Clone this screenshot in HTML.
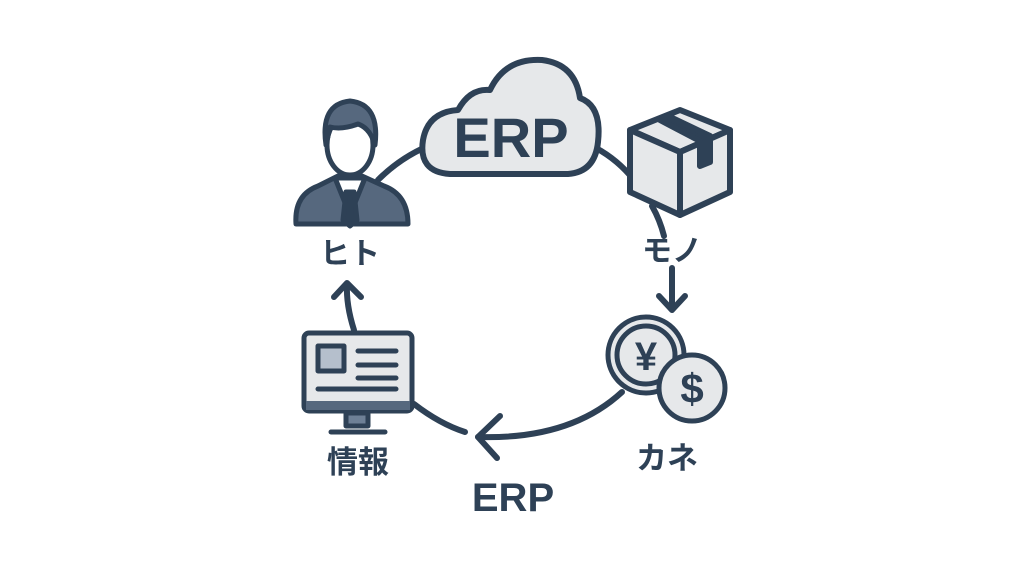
<!DOCTYPE html>
<html><head><meta charset="utf-8"><style>
html,body{margin:0;padding:0;background:#fff;width:1024px;height:576px;overflow:hidden}
text{font-family:"Liberation Sans","Noto Sans CJK JP",sans-serif;fill:#2e4156;font-weight:bold}
</style></head><body>
<svg width="1024" height="576" viewBox="0 0 1024 576" xmlns="http://www.w3.org/2000/svg">
<g fill="none" stroke="#2e4156" stroke-width="6" stroke-linecap="round" stroke-linejoin="round">
<path d="M378 180 Q400 158 428 146"/>
<path d="M596 148 Q618 160 634 180"/>
<path d="M652 206 Q660 220 664 236"/>
<path d="M672 268 V310 M659 296 L672 310 L685 296"/>
<path d="M622 392 Q570 440 478 437"/>
<path d="M500 416 L478 437 L497 458"/>
<path d="M414 404 Q440 424 465 432"/>
<path d="M354 330 Q346 305 347 284 M334 297 L347 283 L361 297"/>
</g>
<path d="M450 174 Q418 172 423 140 Q428 112 458 110 Q470 88 490 90 Q505 58 542 60 Q575 64 580 98 Q602 106 598 142 Q595 172 568 174 Z" fill="#e6e8ea" stroke="#2e4156" stroke-width="6" stroke-linejoin="round"/>
<text x="511" y="157" font-size="56" text-anchor="middle">ERP</text>
<g stroke="#2e4156" stroke-width="5" stroke-linejoin="round">
<path d="M296 224 Q294 195 318 186 L338 176 L362 176 L384 186 Q408 195 408 224 Z" fill="#56687e"/>
<path d="M335 178 L350 215 L365 178 Z" fill="#fff"/>
<path d="M346 192 L354 192 L357 220 L350 226 L343 220 Z" fill="#2e4156"/>
<ellipse cx="350" cy="145" rx="23" ry="30" fill="#fff"/>
<path d="M326 145 Q320 104 350 101 Q380 104 375 145 Q370 128 358 124 Q342 130 330 127 Z" fill="#56687e"/>
</g>
<text x="350" y="264" font-size="30" text-anchor="middle">ヒト</text>
<g stroke="#2e4156" stroke-width="6" stroke-linejoin="round">
<path d="M630 130 L680 110 L730 130 L680 152 Z" fill="#e6e8ea"/>
<path d="M630 130 L680 152 L680 215 L630 192 Z" fill="#e6e8ea"/>
<path d="M680 152 L730 130 L730 192 L680 215 Z" fill="#e6e8ea"/>
<path d="M668 116 L710 136 L710 162 L700 166 L700 141 L660 120 Z" fill="#2e4156"/>
</g>
<text x="672" y="261" font-size="30" text-anchor="middle">モノ</text>
<g stroke="#2e4156" stroke-width="5">
<circle cx="646" cy="355" r="38" fill="#e6e8ea"/>
<circle cx="646" cy="355" r="29" fill="#e6e8ea"/>
<circle cx="692" cy="388" r="33" fill="#e6e8ea"/>
</g>
<text x="646" y="370" font-size="40" text-anchor="middle">¥</text>
<text x="692" y="403" font-size="42" text-anchor="middle">$</text>
<text x="667" y="469" font-size="31" text-anchor="middle">カネ</text>
<g stroke="#2e4156" stroke-width="5" stroke-linejoin="round" stroke-linecap="round">
<rect x="304" y="333" width="108" height="78" rx="5" fill="#e6e8ea"/>
<rect x="306" y="401" width="104" height="9" fill="#56687e" stroke="none"/>
<rect x="318" y="346" width="26" height="25" fill="#b5bfcc"/>
<path d="M358 351 H396 M358 365 H396 M358 378 H396 M318 389 H396" fill="none"/>
<rect x="346" y="413" width="22" height="13" fill="#6e8096"/>
<path d="M331 432 H385" fill="none"/>
</g>
<text x="358" y="473" font-size="31" text-anchor="middle">情報</text>
<text x="513" y="511" font-size="40" text-anchor="middle">ERP</text>
</svg>
</body></html>
